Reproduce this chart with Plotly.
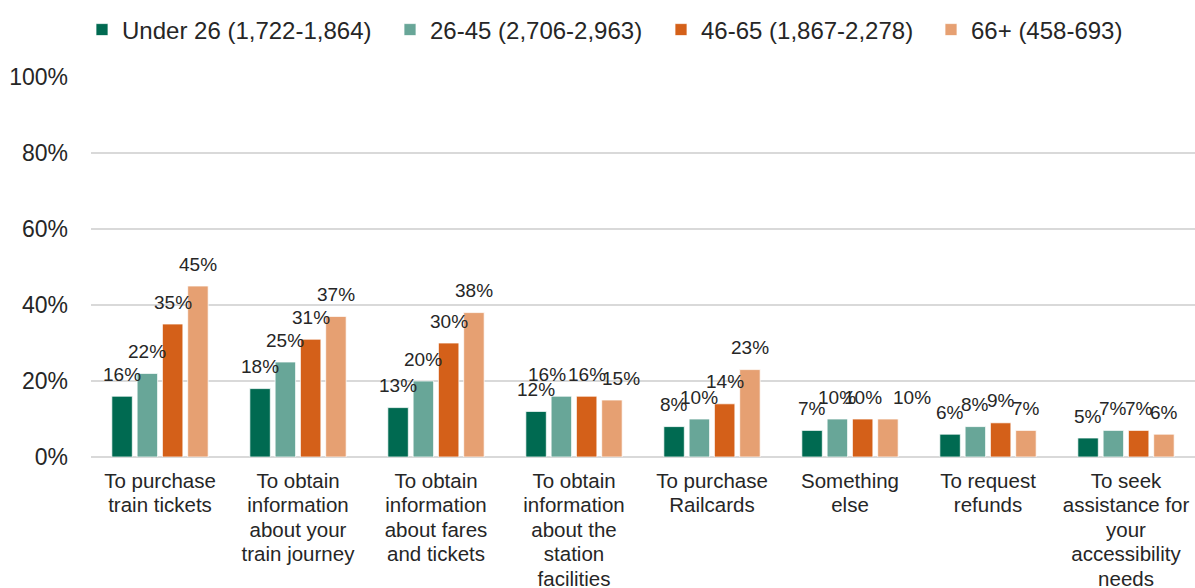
import plotly.graph_objects as go

# Reasons for using the service, by age group (% of respondents)
categories = [
    "To purchase train tickets",
    "To obtain information about your train journey",
    "To obtain information about fares and tickets",
    "To obtain information about the station facilities",
    "To purchase Railcards",
    "Something else",
    "To request refunds",
    "To seek assistance for your accessibility needs",
]
tick_lines = [
    ["To purchase", "train tickets"],
    ["To obtain", "information", "about your", "train journey"],
    ["To obtain", "information", "about fares", "and tickets"],
    ["To obtain", "information", "about the", "station", "facilities"],
    ["To purchase", "Railcards"],
    ["Something", "else"],
    ["To request", "refunds"],
    ["To seek", "assistance for", "your", "accessibility", "needs"],
]

y_ticks = [0, 20, 40, 60, 80, 100]
y_tick_labels = ["0%", "20%", "40%", "60%", "80%", "100%"]

series_names = [
    "Under 26 (1,722-1,864)",
    "26-45 (2,706-2,963)",
    "46-65 (1,867-2,278)",
    "66+ (458-693)",
]
under_26 = [16, 18, 13, 12, 8, 7, 6, 5]
age_26_45 = [22, 25, 20, 16, 10, 10, 8, 7]
age_46_65 = [35, 31, 30, 16, 14, 10, 9, 7]
age_66_plus = [45, 37, 38, 15, 23, 10, 7, 6]
series_values = [under_26, age_26_45, age_46_65, age_66_plus]

colors = ["#006A51", "#68A698", "#D46019", "#E6A072"]

# Layout geometry
W, H = 1195, 588
M_L, M_R, M_T, M_B = 91, 0, 77, 131
BARGAP = 0.267
GROUPGAP = 0.19
TEXT = "#262626"
FONT = "Liberation Sans, Arial, sans-serif"

# category labels: glyphs at 20.5px with tighter line spacing set by the base size
CAT_GLYPH_PX = 20.5
CAT_LINE_BASE = 18.8
tick_labels = [
    "<br>".join(f'<span style="font-size:{CAT_GLYPH_PX}px">{ln}</span>' for ln in lines)
    for lines in tick_lines
]

# pixel offset of each series within a category group
cat_px = (W - M_L - M_R) / len(categories)
slot_px = cat_px * (1 - BARGAP) / len(series_names)
series_shift = [(i - (len(series_names) - 1) / 2) * slot_px for i in range(len(series_names))]

# small horizontal nudges for crowded labels: (category index, series index) -> px
label_nudge = {(3, 1): -14, (3, 3): 9, (5, 3): 24}

# legend text start positions (px from left)
legend_text_x = [122, 430, 701, 971]

fig = go.Figure()
legend_keys = ["legend", "legend2", "legend3", "legend4"]
for i, (name, vals, col) in enumerate(zip(series_names, series_values, colors)):
    fig.add_trace(go.Bar(
        x=categories, y=vals, name=name,
        marker=dict(color=col, line=dict(color="rgba(255,255,255,0.75)", width=1)),
        legend=legend_keys[i],
        hoverinfo="name+y",
    ))

annotations = []
for i, vals in enumerate(series_values):
    for j, v in enumerate(vals):
        annotations.append(dict(
            x=categories[j], y=v, xref="x", yref="y",
            text=f"{v}%", showarrow=False,
            xshift=series_shift[i] + label_nudge.get((j, i), 0),
            yshift=22, yanchor="middle", xanchor="center",
            font=dict(family=FONT, size=19, color=TEXT),
        ))

legend_layouts = {}
for i, key in enumerate(legend_keys):
    legend_layouts[key] = dict(
        xref="container", yref="container",
        x=(legend_text_x[i] - 40) / W, y=1 - 30 / H,
        xanchor="left", yanchor="middle",
        orientation="h", bgcolor="rgba(0,0,0,0)", borderwidth=0,
        font=dict(family=FONT, size=24, color=TEXT),
        itemwidth=30,
    )

fig.update_layout(
    width=W, height=H,
    margin=dict(l=M_L, r=M_R, t=M_T, b=M_B, pad=0),
    paper_bgcolor="white", plot_bgcolor="white",
    barmode="group", bargap=BARGAP, bargroupgap=GROUPGAP,
    font=dict(family=FONT, color=TEXT),
    showlegend=True,
    annotations=annotations,
    **legend_layouts,
)

fig.update_yaxes(
    range=[0, 100], tickmode="array", tickvals=y_ticks, ticktext=y_tick_labels,
    showgrid=True, gridcolor="#D9D9D9", gridwidth=1.5,
    zeroline=True, zerolinecolor="#D9D9D9", zerolinewidth=2,
    showline=False, ticks="", ticklabelstandoff=22,
    tickfont=dict(family=FONT, size=23, color=TEXT),
    automargin=False, fixedrange=True,
)
fig.update_xaxes(
    categoryorder="array", categoryarray=categories,
    tickmode="array", tickvals=categories, ticktext=tick_labels,
    showgrid=False, showline=False, ticks="", ticklabelstandoff=11,
    tickfont=dict(family=FONT, size=CAT_LINE_BASE, color=TEXT),
    automargin=False, fixedrange=True,
)

fig.write_html("out.html")
